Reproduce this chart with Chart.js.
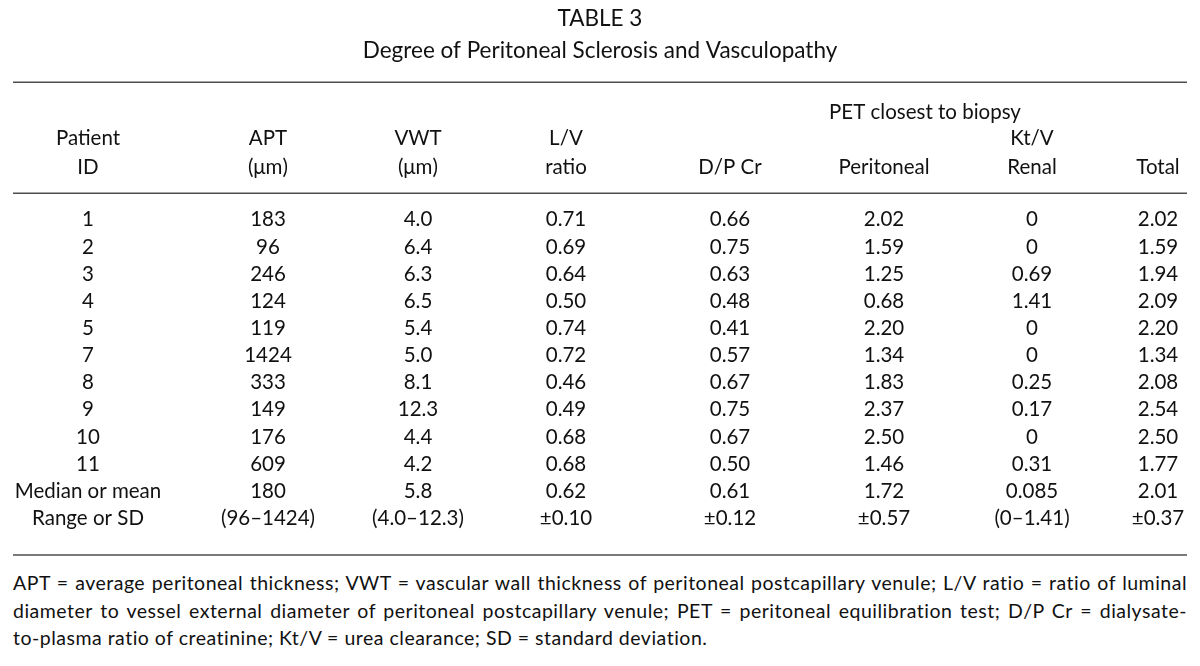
<!DOCTYPE html>
<html>
<head>
<meta charset="utf-8">
<script src="https://cdn.jsdelivr.net/npm/chart.js@4.4.1/dist/chart.umd.min.js"></script>
<style>
  html, body { margin: 0; padding: 0; background: #fff; }
  #wrap { position: relative; width: 1200px; height: 666px; }
  #table3 { position: absolute; left: 0; top: 0; }
  #note {
    position: absolute; left: 13px; top: 569px; width: 1174px;
    font: 19.5px Lato, "Noto Sans", sans-serif; line-height: 27.5px;
    letter-spacing: 0.5px; color: #111; white-space: nowrap;
  }
  #note div { text-align: justify; text-align-last: justify; }
  #note div:last-child { text-align: left; text-align-last: left; }
</style>
</head>
<body>
<div id="wrap">
  <canvas id="table3" width="1200" height="560"></canvas>
  <div id="note">
    <div>APT = average peritoneal thickness; VWT = vascular wall thickness of peritoneal postcapillary venule; L/V ratio = ratio of luminal</div>
    <div>diameter to vessel external diameter of peritoneal postcapillary venule; PET = peritoneal equilibration test; D/P Cr = dialysate-</div>
    <div>to-plasma ratio of creatinine; Kt/V = urea clearance; SD = standard deviation.</div>
  </div>
</div>
<script>
// dữ liệu bảng 3
const patientIds = ['1', '2', '3', '4', '5', '7', '8', '9', '10', '11'];
const apt = [183, 96, 246, 124, 119, 1424, 333, 149, 176, 609];
const vwt = [4.0, 6.4, 6.3, 6.5, 5.4, 5.0, 8.1, 12.3, 4.4, 4.2];
const lvRatio = [0.71, 0.69, 0.64, 0.50, 0.74, 0.72, 0.46, 0.49, 0.68, 0.68];
const dpCr = [0.66, 0.75, 0.63, 0.48, 0.41, 0.57, 0.67, 0.75, 0.67, 0.50];
const ktvPeritoneal = [2.02, 1.59, 1.25, 0.68, 2.20, 1.34, 1.83, 2.37, 2.50, 1.46];
const ktvRenal = [0, 0, 0.69, 1.41, 0, 0, 0.25, 0.17, 0, 0.31];
const ktvTotal = [2.02, 1.59, 1.94, 2.09, 2.20, 1.34, 2.08, 2.54, 2.50, 1.77];
const summaryLabels = ['Median or mean', 'Range or SD'];
const medianRow = ['180', '5.8', '0.62', '0.61', '1.72', '0.085', '2.01'];
const spreadRow = ['(96–1424)', '(4.0–12.3)', '±0.10', '±0.12', '±0.57', '(0–1.41)', '±0.37'];
const headTop = ['Patient', 'APT', 'VWT', 'L/V', '', '', 'Kt/V', ''];
const headBottom = ['ID', '(μm)', '(μm)', 'ratio', 'D/P Cr', 'Peritoneal', 'Renal', 'Total'];
const groupLabel = 'PET closest to biopsy';

// bố cục cột (đơn vị trục x, 0..1174)
const colPos = [75, 255, 405, 553, 717, 871, 1019, 1145];
const FONT = '20.5px Lato, "Noto Sans", sans-serif';
const INK = '#111';
const RULE = '#4d4d4d';

const rowLabels = patientIds.concat(summaryLabels);
const seriesCols = [apt, vwt, lvRatio, dpCr, ktvPeritoneal, ktvRenal, ktvTotal];
const decimals = [0, 1, 2, 2, 2, 2, 2];

function fmt(v, d) {
    return v === 0 ? '0' : v.toFixed(d);
}

// ma trận ô: cột 0 là nhãn hàng
const cells = rowLabels.map((lab, i) => {
    if (i < patientIds.length) {
        return [lab].concat(seriesCols.map((s, c) => fmt(s[i], decimals[c])));
    }
    return [lab].concat(i === patientIds.length ? medianRow : spreadRow);
});

const tablePlugin = {
    id: 'tableDraw',
    afterDraw(chart) {
        const { ctx, chartArea, scales } = chart;
        const x = scales.x, y = scales.y;
        const top = chartArea.top;
        ctx.save();
        ctx.fillStyle = INK;
        ctx.font = FONT;
        ctx.textAlign = 'center';
        ctx.textBaseline = 'middle';

        // đường kẻ ngang
        ctx.strokeStyle = RULE;
        ctx.lineWidth = 1.5;
        [top - 124, top - 13, chartArea.bottom + 23].forEach(yy => {
            ctx.beginPath();
            ctx.moveTo(chartArea.left, yy);
            ctx.lineTo(chartArea.right, yy);
            ctx.stroke();
        });

        // tiêu đề cột
        ctx.fillText(groupLabel, x.getPixelForValue(912), top - 94);
        headTop.forEach((t, c) => {
            if (t) ctx.fillText(t, x.getPixelForValue(colPos[c]), top - 68);
        });
        headBottom.forEach((t, c) => {
            ctx.fillText(t, x.getPixelForValue(colPos[c]), top - 39);
        });

        // các ô dữ liệu
        cells.forEach((row, i) => {
            const py = y.getPixelForValue(i);
            row.forEach((t, c) => {
                ctx.fillText(t, x.getPixelForValue(colPos[c]), py);
            });
        });
        ctx.restore();
    }
};

const chart = new Chart(document.getElementById('table3'), {
    type: 'scatter',
    data: { labels: rowLabels, datasets: [] },
    options: {
        responsive: false,
        animation: false,
        events: [],
        layout: { padding: { left: 13, right: 13, top: 0, bottom: 28 } },
        scales: {
            x: { type: 'linear', min: 0, max: 1174, display: false },
            y: { type: 'category', labels: rowLabels, offset: true, display: false }
        },
        plugins: {
            legend: { display: false },
            tooltip: { enabled: false },
            title: {
                display: true,
                text: ['TABLE 3', 'Degree of Peritoneal Sclerosis and Vasculopathy'],
                color: INK,
                font: { family: 'Lato, "Noto Sans", sans-serif', size: 22.5, weight: 'normal', lineHeight: 1.45 },
                padding: { top: 2, bottom: 139 }
            }
        }
    },
    plugins: [tablePlugin]
});
</script>
</body>
</html>
